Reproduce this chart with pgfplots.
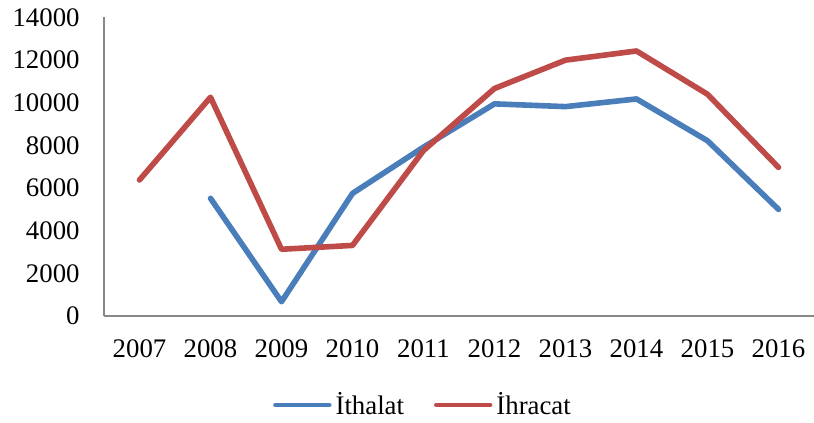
\documentclass[border=0pt]{standalone}
\usepackage{pgfplots}
\pgfplotsset{compat=1.18}
\usepackage{fontspec}
\setmainfont{Liberation Serif}
\definecolor{cblue}{HTML}{4A7EBB}
\definecolor{cred}{HTML}{BE4B48}
\definecolor{axgray}{HTML}{888888}
\newcommand{\chartfont}{\fontsize{13.4}{15}\selectfont}
\begin{document}
\begin{tikzpicture}
\path[use as bounding box] (0,0) rectangle (407pt,211.5pt);
\begin{axis}[
  at={(52pt,53.5pt)}, anchor=south west,
  scale only axis, width=355pt, height=149.25pt,
  xmin=-0.5, xmax=9.5, ymin=0, ymax=14000,
  axis x line*=bottom, axis y line*=left,
  axis line style={axgray, line width=0.8pt, -},
  xtick={0,...,9},
  xticklabels={2007,2008,2009,2010,2011,2012,2013,2014,2015,2016},
  ytick={0,2000,...,14000},
  scaled y ticks=false,
  major tick length=0pt,
  /pgf/number format/assume math mode=true,
  /pgf/number format/1000 sep={},
  yticklabel style={font=\chartfont, anchor=east, inner sep=0pt, xshift=-12pt},
  xticklabel style={font=\chartfont, anchor=north, inner sep=0pt, yshift=-11.5pt},
  legend columns=2,
  legend style={draw=none, fill=none, font=\chartfont, at={(0.4507,-0.298)}, anchor=center,
    /tikz/every even column/.append style={column sep=13pt}},
  legend image code/.code={\draw[#1, line width=2.2pt, line cap=round] (0pt,0pt) -- (27pt,0pt);},
  clip=false,
]
\addplot[cblue, line width=2.8pt, line cap=round, line join=round] coordinates {
 (1,5520) (2,670) (3,5750) (4,7920) (5,9950) (6,9820) (7,10180) (8,8220) (9,5000)};
\addlegendentry{İthalat}
\addplot[cred, line width=2.8pt, line cap=round, line join=round] coordinates {
 (0,6380) (1,10260) (2,3130) (3,3310) (4,7760) (5,10670) (6,12000) (7,12430) (8,10400) (9,6970)};
\addlegendentry{İhracat}
\end{axis}
\end{tikzpicture}
\end{document}
